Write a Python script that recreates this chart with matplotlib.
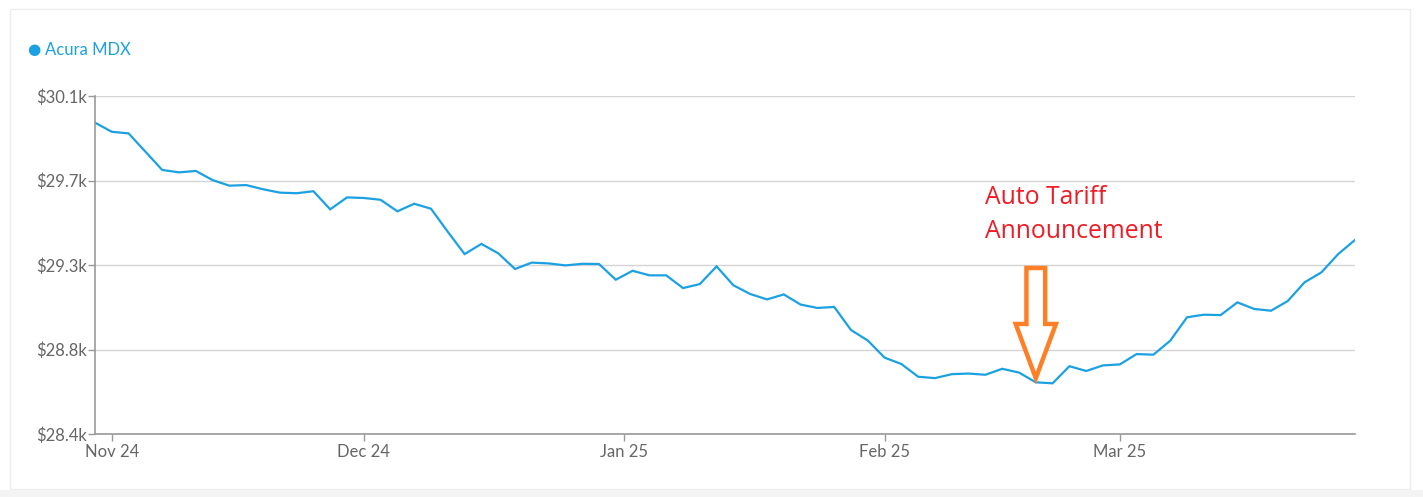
import math
import numpy as np
import pandas as pd
import matplotlib
matplotlib.use("Agg")
import matplotlib.pyplot as plt
import matplotlib.dates as mdates
from matplotlib.ticker import FuncFormatter
from matplotlib.patches import Rectangle

# Acura MDX average price, one reading every two days
start_date = "2024-10-30"
step_days = 2
prices = [
    29966, 29920, 29912, 29820, 29728, 29716, 29723, 29677, 29649, 29652,
    29631, 29614, 29611, 29621, 29530, 29590, 29587, 29578, 29520, 29558,
    29533, 29417, 29305, 29356, 29309, 29230, 29262, 29258, 29248, 29256,
    29255, 29176, 29221, 29198, 29198, 29134, 29154, 29243, 29148, 29104,
    29077, 29102, 29051, 29034, 29039, 28923, 28870, 28784, 28752, 28688,
    28681, 28701, 28704, 28698, 28728, 28709, 28660, 28655, 28741, 28717,
    28745, 28750, 28802, 28799, 28869, 28987, 29000, 28998, 29062, 29029,
    29020, 29069, 29163, 29213, 29305, 29376,
]
series_name = "Acura MDX"
annot_text = "Auto Tariff\nAnnouncement"
annot_index = 56          # reading the arrow points at
arrow_top_value = 29235   # where the arrow tail starts

y_min, y_max = 28400, 30100

dates = pd.date_range(start_date, periods=len(prices), freq=f"{step_days}D")

blue = "#1ba1e2"
grey_txt = "#666666"

plt.rcParams["font.family"] = ["Lato", "DejaVu Sans"]

fig = plt.figure(figsize=(14.23, 4.97), dpi=100)
fig.patch.set_facecolor("white")
# card border and bottom strip
fig.patches.append(Rectangle((0.007, 0.016), 0.984, 0.965, transform=fig.transFigure,
                             fill=False, ec="#eeeeee", lw=1))
fig.patches.append(Rectangle((0, 0), 1, 0.014, transform=fig.transFigure,
                             fc="#f4f4f4", ec="none"))

ax = fig.add_axes([95 / 1423, 63 / 497, 1260 / 1423, 338 / 497])
ax.plot(dates, prices, color=blue, lw=1.6, solid_joinstyle="miter")

ax.set_ylim(y_min, y_max)
ax.set_yticks(np.linspace(y_min, y_max, 5))
ax.yaxis.set_major_formatter(
    FuncFormatter(lambda v, p: f"${math.floor(v / 100 + 0.5) / 10:.1f}k"))
ax.set_xlim(dates[0], dates[-1])
ax.xaxis.set_major_locator(mdates.MonthLocator())
ax.xaxis.set_major_formatter(mdates.DateFormatter("%b %y"))

ax.grid(axis="y", color="#d4d4d4", lw=1)
ax.set_axisbelow(True)
for s in ["top", "right"]:
    ax.spines[s].set_visible(False)
for s in ["left", "bottom"]:
    ax.spines[s].set_color("#999999")
    ax.spines[s].set_linewidth(1.2)
ax.tick_params(axis="both", colors="#999999", labelcolor=grey_txt,
               labelsize=12, length=5, width=1)
ax.tick_params(axis="y", pad=1)
ax.tick_params(axis="x", pad=2)

# legend-like label at top left
fig.text(27 / 1423, 1 - 50 / 497, "\u25cf", color=blue, fontsize=11,
         ha="left", va="center", family=["DejaVu Sans"])
fig.text(45 / 1423, 1 - 50 / 497, series_name, color=blue, fontsize=12,
         ha="left", va="center")

# annotation
ax.text(0.706, 0.737, annot_text, transform=ax.transAxes, color="#ee1c25",
        fontsize=17.8, ha="left", va="top", linespacing=1.5,
        family=["Open Sans", "DejaVu Sans"])
ax.annotate("", xy=(dates[annot_index], prices[annot_index]),
            xytext=(dates[annot_index], arrow_top_value),
            arrowprops=dict(arrowstyle="simple,head_length=3.9,head_width=2.9,tail_width=1.35",
                            fc="white", ec="#ff7f27", lw=3.2, mutation_scale=10,
                            shrinkA=0, shrinkB=3, joinstyle="miter"))

fig.savefig("out.png", dpi=100)
